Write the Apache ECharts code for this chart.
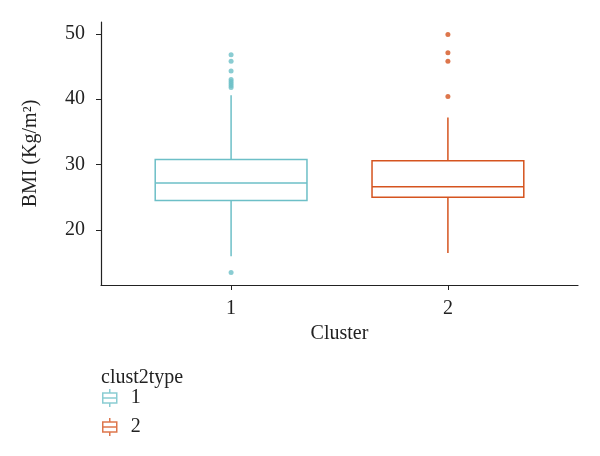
<!DOCTYPE html>
<html>
<head>
<meta charset="utf-8">
<script src="https://cdn.jsdelivr.net/npm/echarts@6/dist/echarts.min.js"></script>
<style>html,body{margin:0;padding:0;background:#fff}#c{width:600px;height:456px}</style>
</head>
<body>
<div id="c"></div>
<script>
const categories = [1, 2];
// [whisker low, Q1, median, Q3, whisker high]
const box1 = [16.0, 24.5, 27.2, 30.8, 40.6];
const box2 = [16.5, 25.0, 26.6, 30.6, 37.2];
const outliers1 = [13.5, 41.8, 42.1, 42.4, 42.7, 43.0, 44.3, 45.8, 46.8];
const outliers2 = [40.4, 45.8, 47.1, 49.9];
const yTicks = [20, 30, 40, 50];
const colors = ['#6DBFC7', '#D5541F'];

const FONT = 'Liberation Serif';
const chart = echarts.init(document.getElementById('c'));
const yMin = 11.6, yMax = 51.8;
const iconPath = 'path://M1,4 L15,4 L15,14 L1,14 Z M1,9 L15,9 M8,0 L8,4 M8,14 L8,18';

const boxData = [
  [categories[0]].concat(box1, [0]),
  [categories[1]].concat(box2, [1])
];

chart.setOption({
  animation: false,
  textStyle: { fontFamily: FONT },
  title: {
    text: 'clust2type', left: 101, top: 368, padding: 0,
    textStyle: { fontFamily: FONT, fontSize: 20, fontWeight: 'normal', color: '#222' }
  },
  legend: {
    orient: 'vertical', left: 102, top: 388, itemGap: 9, padding: 0,
    itemWidth: 16, itemHeight: 18,
    data: [
      { name: '1', icon: iconPath, itemStyle: { color: '#fff', borderColor: colors[0], borderWidth: 1.5 } },
      { name: '2', icon: iconPath, itemStyle: { color: '#fff', borderColor: colors[1], borderWidth: 1.5 } }
    ],
    textStyle: { fontFamily: FONT, fontSize: 20, color: '#222', padding: [0, 0, 0, 8] }
  },
  grid: { left: 101, right: 22, top: 22, bottom: 171 },
  xAxis: {
    type: 'value', min: 0.4, max: 2.6,
    name: 'Cluster', nameLocation: 'middle', nameGap: 36,
    nameTextStyle: { fontFamily: FONT, fontSize: 20, color: '#222' },
    axisLine: { show: true, lineStyle: { color: '#222', width: 1.2 } },
    axisTick: { show: true, length: 5, customValues: categories, lineStyle: { color: '#222' } },
    axisLabel: { customValues: categories, margin: 14, fontFamily: FONT, fontSize: 20, color: '#222' },
    splitLine: { show: false }
  },
  yAxis: {
    type: 'value', min: yMin, max: yMax,
    name: 'BMI (Kg/m²)', nameLocation: 'middle', nameGap: 60,
    nameTextStyle: { fontFamily: FONT, fontSize: 20, color: '#222' },
    axisLine: { show: true, lineStyle: { color: '#222', width: 1.2 } },
    axisTick: { show: true, length: 5, customValues: yTicks, lineStyle: { color: '#222' } },
    axisLabel: { customValues: yTicks, margin: 16, fontFamily: FONT, fontSize: 20, color: '#222' },
    splitLine: { show: false }
  },
  series: [
    {
      name: 'box', type: 'custom',
      encode: { x: 0, y: [1, 2, 3, 4, 5] },
      data: boxData,
      renderItem: function (params, api) {
        const x = api.value(0);
        const c = colors[api.value(6)];
        const w = api.size([0.7, 0])[0];
        const p = i => api.coord([x, api.value(i)]);
        const pMin = p(1), pQ1 = p(2), pMed = p(3), pQ3 = p(4), pMax = p(5);
        const cx = pMed[0];
        const ls = { stroke: c, lineWidth: 1.5, fill: null };
        return {
          type: 'group',
          children: [
            { type: 'line', shape: { x1: cx, y1: pQ3[1], x2: cx, y2: pMax[1] }, style: ls },
            { type: 'line', shape: { x1: cx, y1: pQ1[1], x2: cx, y2: pMin[1] }, style: ls },
            { type: 'rect', shape: { x: cx - w / 2, y: pQ3[1], width: w, height: pQ1[1] - pQ3[1] },
              style: { fill: '#fff', stroke: c, lineWidth: 1.5 } },
            { type: 'line', shape: { x1: cx - w / 2, y1: pMed[1], x2: cx + w / 2, y2: pMed[1] }, style: ls }
          ]
        };
      }
    },
    {
      name: '1', type: 'scatter',
      symbolSize: 5, itemStyle: { color: colors[0] },
      data: outliers1.map(v => [categories[0], v])
    },
    {
      name: '2', type: 'scatter',
      symbolSize: 5, itemStyle: { color: colors[1] },
      data: outliers2.map(v => [categories[1], v])
    }
  ]
});
</script>
</body>
</html>
